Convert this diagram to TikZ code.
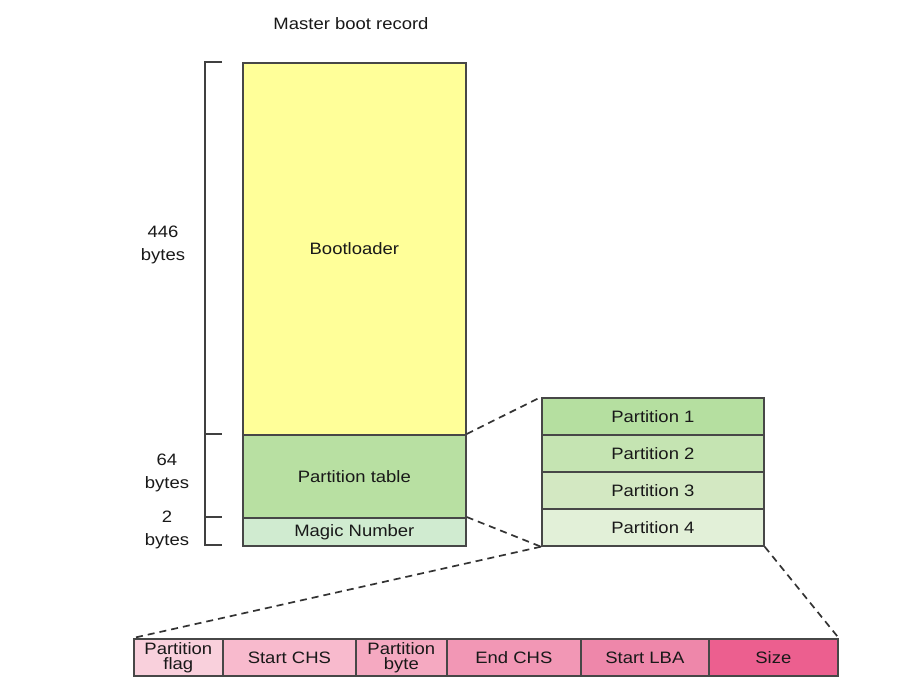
\documentclass[tikz,border=0pt]{standalone}
\usepackage{fontspec}
\setmainfont[FakeStretch=1.12]{Liberation Sans}
\begin{document}
\begin{tikzpicture}[x=1pt,y=-1pt,
  every node/.style={font=\fontsize{16.5}{17}\selectfont, text=black!90},
  blk/.style={draw=black!72, line width=1.7pt, inner sep=0pt, anchor=north west},
  dsh/.style={draw=black!80, line width=1.7pt, dash pattern=on 7pt off 5pt},
  brk/.style={draw=black!75, line width=1.8pt},
  lbl/.style={align=center, font=\fontsize{16.5}{23}\selectfont},
  two/.style={align=center, font=\fontsize{16.5}{15}\selectfont}]
\useasboundingbox (0,0) rectangle (908,687);
\definecolor{cyel}{HTML}{FFFF99}
\definecolor{cpt}{HTML}{B8E0A2}
\definecolor{cmag}{HTML}{D0EBD0}
\definecolor{cp1}{HTML}{B5DFA0}
\definecolor{cp2}{HTML}{C5E4B2}
\definecolor{cp3}{HTML}{D3E8C2}
\definecolor{cp4}{HTML}{E2F0D8}
\definecolor{ck1}{HTML}{F9D0DC}
\definecolor{ck2}{HTML}{F8BACD}
\definecolor{ck3}{HTML}{F5A9C1}
\definecolor{ck4}{HTML}{F297B5}
\definecolor{ck5}{HTML}{EE87AA}
\definecolor{ck6}{HTML}{EC5F8F}

\node (title) at (351,24) {Master boot record};

% MBR
\node[blk, fill=cyel, minimum width=223pt, minimum height=372pt] (boot) at (242,62) {Bootloader};
\node[blk, fill=cpt, minimum width=223pt, minimum height=83pt] (ptab) at (242,434) {Partition table};
\node[blk, fill=cmag, minimum width=223pt, minimum height=28pt] (magic) at (242,517) {Magic Number};

% bracket
\coordinate (bt) at (205,62);
\coordinate (bb) at (205,545);
\draw[brk] (222,62) -- (bt) -- (bb) -- (222,545);
\draw[brk] (205,434) -- (222,434);
\draw[brk] (205,517) -- (222,517);
\node[lbl] (l446) at (163,245) {446\\bytes};
\node[lbl] (l64) at (167,473) {64\\bytes};
\node[lbl] (l2) at (167,530) {2\\bytes};

% partitions
\node[blk, fill=cp1, minimum width=222pt, minimum height=37pt] (p1) at (541,397) {Partition 1};
\node[blk, fill=cp2, minimum width=222pt, minimum height=37pt] (p2) at (541,434) {Partition 2};
\node[blk, fill=cp3, minimum width=222pt, minimum height=37pt] (p3) at (541,471) {Partition 3};
\node[blk, fill=cp4, minimum width=222pt, minimum height=37pt] (p4) at (541,508) {Partition 4};

\draw[dsh] (ptab.north east) -- (p1.north west);
\draw[dsh] (magic.north east) -- (p4.south west);

% entry fields
\node[blk, fill=ck1, minimum width=89pt, minimum height=37pt, two] (f1) at (133,638) {Partition\\flag};
\node[blk, fill=ck2, minimum width=133pt, minimum height=37pt] (f2) at (222,638) {Start CHS};
\node[blk, fill=ck3, minimum width=91pt, minimum height=37pt, two] (f3) at (355,638) {Partition\\byte};
\node[blk, fill=ck4, minimum width=134pt, minimum height=37pt] (f4) at (446,638) {End CHS};
\node[blk, fill=ck5, minimum width=128pt, minimum height=37pt] (f5) at (580,638) {Start LBA};
\node[blk, fill=ck6, minimum width=129pt, minimum height=37pt] (f6) at (708,638) {Size};

\draw[dsh] (p4.south west) -- (f1.north west);
\draw[dsh] (p4.south east) -- (f6.north east);
\end{tikzpicture}
\end{document}
